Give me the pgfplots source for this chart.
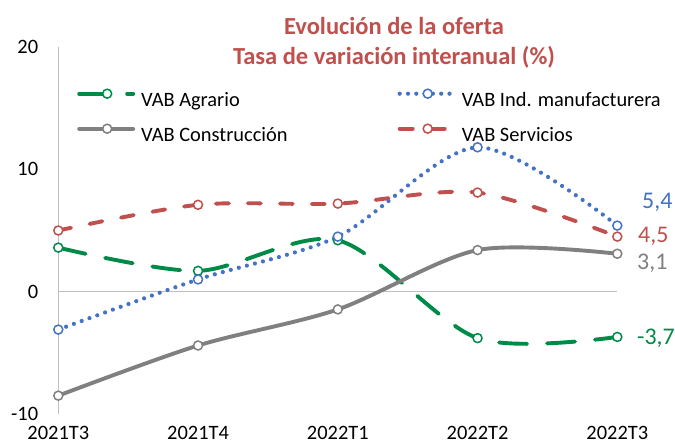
\documentclass[border=0pt]{standalone}
\usepackage{fontspec}
\setmainfont{Carlito}
\usepackage{pgfplots}
\pgfplotsset{compat=1.18}
\definecolor{cgreen}{RGB}{0,138,72}
\definecolor{cblue}{RGB}{68,114,196}
\definecolor{cred}{RGB}{192,80,77}
\definecolor{cgray}{RGB}{128,128,128}
\definecolor{axgray}{RGB}{191,191,191}
\newcommand{\fnt}{\fontsize{20.5}{24}\selectfont}
\newcommand{\lfnt}{\fontsize{24}{28}\selectfont}
\newcommand{\tfnt}{\fontsize{24.6}{28}\selectfont\bfseries}
\begin{document}
\begin{tikzpicture}
\useasboundingbox (0bp,0bp) rectangle (675bp,448bp);
\clip (0bp,0bp) rectangle (675bp,448bp);
\node[anchor=base, font=\tfnt, text=cred, inner sep=0pt] at (394bp,413bp) {Evolución de la oferta};
\node[anchor=base, font=\tfnt, text=cred, inner sep=0pt] at (394bp,383bp) {Tasa de variación interanual (\%)};
\begin{axis}[
  at={(58.3bp,34bp)}, anchor=south west, scale only axis,
  width=559bp, height=367bp,
  xmin=0, xmax=4, ymin=-10, ymax=20,
  xtick={0,1,2,3,4}, xticklabels={2021T3,2021T4,2022T1,2022T2,2022T3},
  ytick={-10,0,10,20}, yticklabels={-10,0,10,20},
  major tick length=0pt,
  axis x line*=bottom, axis y line*=left,
  x axis line style={draw=none},
  y axis line style={draw=axgray, line width=1bp, -},
  extra y ticks={0}, extra y tick labels={},
  extra y tick style={grid=major, grid style={axgray, line width=1bp}},
  ticklabel style={font=\fnt, text=black, inner sep=0pt},
  xticklabel style={anchor=north, yshift=-12bp},
  yticklabel style={anchor=east, xshift=-20bp},
  clip=false,
  legend columns=2,
  legend cell align=left,
  legend style={at={(0.0335,0.9033)}, anchor=north west, draw=none, fill=none,
    inner sep=0pt, font=\fnt, row sep=0pt,
    nodes={inner sep=0pt, text height=24.1bp, text depth=10.9bp},
    /tikz/every odd column/.append style={column sep=6bp},
    /tikz/every even column/.append style={column sep=110bp}},
  legend image code/.code={\draw[mark repeat=2,mark phase=2,#1] plot coordinates {(0bp,6.5bp)(28bp,6.5bp)(54bp,6.5bp)};},
  every axis plot/.append style={smooth, mark=*, mark size=4.5bp},
]
\addplot[cgreen, line width=3.9bp, line cap=round, dash pattern=on 28bp off 20bp,
  mark options={solid, fill=white, draw=cgreen, line width=1.5bp}]
  coordinates {(0,3.6)(1,1.7)(2,4.2)(3,-3.8)(4,-3.7)};
\addlegendentry{VAB Agrario}
\addplot[cblue, line width=4.2bp, line cap=round, dash pattern=on 0bp off 8.3bp,
  mark options={solid, fill=white, draw=cblue, line width=1.5bp}]
  coordinates {(0,-3.1)(1,1.0)(2,4.5)(3,11.8)(4,5.4)};
\addlegendentry{VAB Ind. manufacturera}
\addplot[cgray, line width=3.9bp, line cap=round,
  mark options={solid, fill=white, draw=cgray, line width=1.5bp}]
  coordinates {(0,-8.5)(1,-4.4)(2,-1.45)(3,3.4)(4,3.1)};
\addlegendentry{VAB Construcción}
\addplot[cred, line width=3.9bp, line cap=round, dash pattern=on 13bp off 19bp,
  mark options={solid, fill=white, draw=cred, line width=1.5bp}]
  coordinates {(0,5.0)(1,7.1)(2,7.2)(3,8.1)(4,4.5)};
\addlegendentry{VAB Servicios}
\addplot[forget plot, draw=none, mark=none, nodes near coords, point meta=explicit symbolic,
  nodes near coords style={anchor=base west, text=cblue, font=\lfnt, inner sep=0pt, xshift=24.7bp, yshift=17.6bp}]
  coordinates {(4,5.4) [5{,}4]};
\addplot[forget plot, draw=none, mark=none, nodes near coords, point meta=explicit symbolic,
  nodes near coords style={anchor=base west, text=cred, font=\lfnt, inner sep=0pt, xshift=20.7bp, yshift=-6.3bp}]
  coordinates {(4,4.5) [4{,}5]};
\addplot[forget plot, draw=none, mark=none, nodes near coords, point meta=explicit symbolic,
  nodes near coords style={anchor=base west, text=cgray, font=\lfnt, inner sep=0pt, xshift=19.7bp, yshift=-16.2bp}]
  coordinates {(4,3.1) [3{,}1]};
\addplot[forget plot, draw=none, mark=none, nodes near coords, point meta=explicit symbolic,
  nodes near coords style={anchor=base west, text=cgreen, font=\lfnt, inner sep=0pt, xshift=19.7bp, yshift=-8bp}]
  coordinates {(4,-3.7) [-3{,}7]};
\end{axis}
\end{tikzpicture}
\end{document}
